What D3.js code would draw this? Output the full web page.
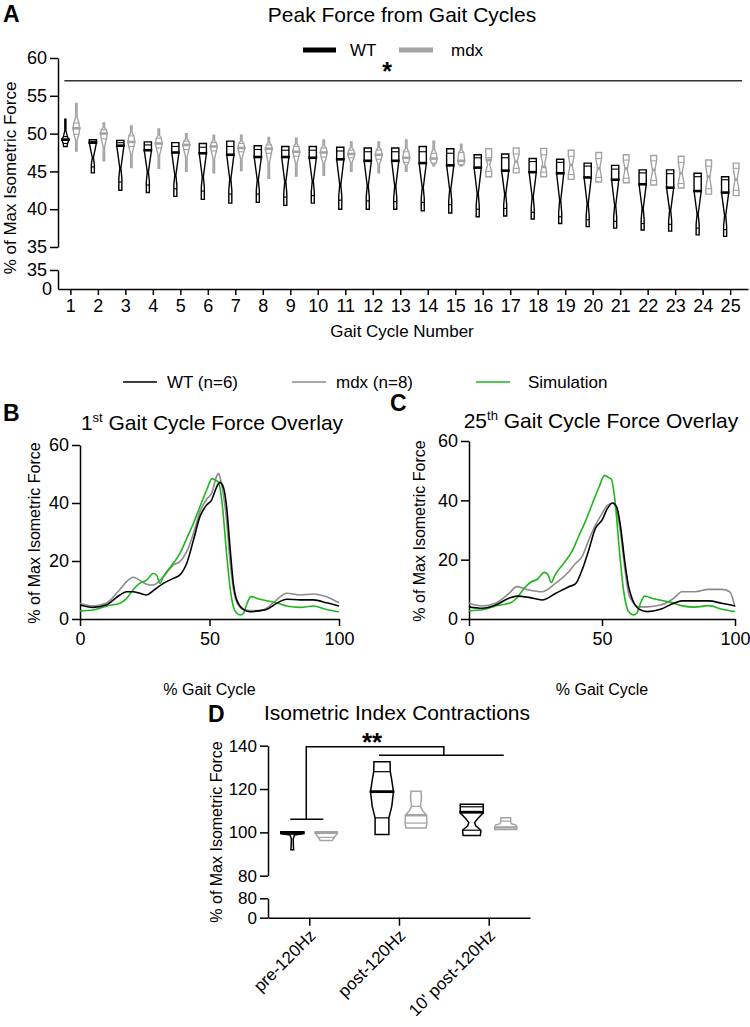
<!DOCTYPE html>
<html><head><meta charset="utf-8">
<script src="https://cdn.jsdelivr.net/npm/d3@7"></script>
<style>
body{margin:0;background:#fff}
svg{display:block}
text{font-family:'Liberation Sans',Arial,Helvetica,sans-serif;fill:#000}
</style>
</head><body>
<svg id="chart" width="750" height="1027"></svg>
<script>
// ---------------- DATA ----------------
// Panel A: peak force per gait cycle (violin summaries: min, q1, median, q3, max)
const cycles = [1,2,3,4,5,6,7,8,9,10,11,12,13,14,15,16,17,18,19,20,21,22,23,24,25];
const wtMax = [51.9,49.2,49.1,48.9,48.8,48.7,49.0,48.4,48.3,48.3,48.2,48.1,48.1,48.3,48.0,47.2,47.3,46.7,46.6,46.1,45.8,45.2,45.2,44.75,44.3];
const wtQ3  = [49.6,49.0,48.8,48.5,48.3,48.2,48.3,47.9,47.8,47.8,47.7,47.6,47.6,47.6,47.4,46.8,46.8,46.3,46.2,45.7,45.3,44.8,44.7,44.3,43.9];
const wtMed = [49.2,48.8,48.4,47.8,47.5,47.4,47.2,46.9,46.9,46.8,46.6,46.4,46.4,46.1,45.8,45.5,45.1,44.9,44.75,44.2,43.9,43.3,42.85,42.4,42.2];
const wtQ1  = [48.7,45.6,43.6,43.2,42.7,42.4,42.0,42.0,41.6,41.8,41.2,41.1,41.0,40.9,40.6,40.0,40.1,39.6,39.0,38.6,38.4,38.1,38.0,37.5,37.3];
const wtMin = [48.3,44.8,42.5,42.2,41.7,41.3,40.8,40.9,40.5,40.8,40.0,40.0,40.0,39.8,39.5,39.0,39.1,38.7,38.1,37.7,37.5,37.25,37.1,36.6,36.4];
const wtShape = ["diamond","block","block","block","block","block","block","block","block","block","block","block","block","block","block","block","block","block","block","block","block","block","block","block","block"];
const mdxMax = [54.0,51.4,51.0,50.6,50.0,49.8,49.8,49.5,49.4,49.15,48.9,48.9,49.15,49.0,48.6,48.0,48.1,48.05,47.8,47.5,47.2,47.1,47.0,46.5,46.1];
const mdxQ3  = [51.4,50.5,49.7,49.4,49.0,48.8,48.7,48.5,48.3,48.1,47.8,47.8,47.6,47.4,47.5,46.8,47.3,47.2,47.0,46.7,46.5,46.4,46.2,45.7,45.4];
const mdxMed = [50.7,50.0,48.9,48.7,48.5,48.3,48.1,48.0,47.6,47.5,47.3,47.2,46.8,46.7,46.4,46.5,46.3,45.6,45.85,45.4,45.4,45.2,44.75,44.3,43.9];
const mdxQ1  = [49.9,49.3,48.3,48.1,47.9,47.7,47.6,47.4,47.0,46.9,46.8,46.6,46.2,46.1,45.9,45.0,45.4,44.9,44.6,44.2,44.1,43.8,43.4,42.7,42.5];
const mdxMin = [47.7,46.4,45.5,45.4,45.0,44.8,45.1,44.1,44.4,44.5,45.0,44.8,45.0,45.75,45.7,44.3,44.8,44.3,43.95,43.6,43.5,43.2,42.8,42.0,41.8];
const mdxShape = ["spindle","spindle","spindle","spindle","spindle","spindle","spindle","spindle","spindle","spindle","spindle","spindle","spindle","spindle","spindle","hourglass","hourglass","hourglass","hourglass","hourglass","hourglass","hourglass","hourglass","hourglass","hourglass"];
const yTicksAUpper = [35,40,45,50,55,60];
const yTicksALower = [0,35];
const sigA = 57; // significance bar level

// Panel B: 1st gait cycle force overlay
const bWtX = [0,5,10,15.4,18,20.6,25.7,28.3,32.2,36,38.6,41.2,43.8,46.3,48.9,50.8,52.8,54,55.3,56.6,57.9,59.2,60.5,63.1,65.6,69.5,72,75.9,79.8,85,90.1,95.2,100];
const bWtY = [4.8,4.0,4.8,8.3,9.4,9.4,8.3,9.8,12.3,14,15.2,19.2,27.2,35.3,39.3,41,45.6,47.1,45.6,38.7,24.9,12.3,6.6,3.3,2.5,2.9,3.3,5.4,6.8,6.6,6.6,5.6,4.5];
const bMdxX = [0,5,10,15.4,18,20.6,23,25.7,28.3,32.2,36,38.6,41.2,43.8,46.3,48.9,50.8,52.8,53.5,54,55.3,56.6,57.9,59.2,60.5,63.1,65.6,69.5,72,75.9,79.8,85,90.1,95.2,100];
const bMdxY = [5.4,4.5,5.4,10.2,12.9,14.4,13.4,12,11.7,14.6,18.6,19.8,23.2,29.5,37,41.3,43.3,49.3,50.2,49,43.3,34,20.3,10.6,6,3.3,2.9,2.9,3.7,6.6,8.9,8.3,8.6,7.7,5.6];
// Simulation (same in B and C)
const simX = [0,5.1,10.3,15.4,18,20.6,23,25.7,28.3,29.6,30.9,32.2,36,38.6,41.2,43.8,46.3,48.9,51,52.3,53.5,54.8,56.6,57.9,59.2,60.5,62,63.1,64.5,66,69.5,75.9,79.8,85,90.1,95.2,100];
const simY = [2.8,3.1,4.5,5.4,7.1,10.2,12.3,13.4,15.7,15.1,12.3,14.6,19.2,22.6,27.8,33,38.7,44.5,48.4,47.8,47.2,40.5,22.6,11.1,4.3,2,1.4,2,5.4,7.7,6.8,5.6,4.5,4.0,4.5,3.3,2.5];
// Panel C: 25th gait cycle
const cWtX = [0,5,10,15,18,22.5,27.5,32.5,37.5,40,42.5,45,47.5,50,52,54,55.5,57,58.5,60,61.5,64,67,72,77,80,85,90,95,100];
const cWtY = [4.1,3.6,4.7,7.0,7.7,7.3,6.4,8.6,10.9,11.8,16.5,23.2,30.5,33.3,37.2,39.1,37.8,31,19.8,10.9,6.4,3.3,2.5,3.3,5.3,6.1,6.1,6.1,5.3,4.4];
const cMdxX = [0,5,10,15,18,22.5,27.5,32.5,37.5,40,42.5,45,47.5,50,52,54,55.5,57,58.5,60,61.5,64,67,72,77,80,85,90,95,98,100];
const cMdxY = [5.3,4.4,5.3,8.6,10.9,9.8,9.2,12,15.9,18.7,21,26.6,31.6,35.5,38.3,39.1,36.7,28.8,17.6,8.6,5.8,4.1,4.1,4.7,7.0,9.2,9.2,10,10,9.2,4.1];
const yTicksBC = [0,20,40,60];
const xTicksBC = [0,50,100];
const legendLabels = ["WT (n=6)","mdx (n=8)","Simulation"];

// Panel D: isometric index contractions (violin density knots [value, relative density])
const dCats = ["pre-120Hz","post-120Hz","10' post-120Hz"];
const dWtKnots = [
  [[92,0.12],[93.5,0.1],[97,0.08],[98.8,0.2],[99.3,0.85],[99.7,1],[100.3,1]],
  [[99,0.6],[106.7,0.6],[112,0.85],[118.8,1],[125,0.82],[128,0.72],[132.6,0.7]],
  [[98.5,0.75],[101,0.8],[103,0.35],[104.5,0.25],[106.5,0.55],[109,1],[113,1]]
];
const dWtMed = [99.7,118.8,109.3];
const dWtQ = [[99.2,100.0],[106.7,128],[101,111.8]];
const dMdxKnots = [
  [[96.2,0.55],[97.5,0.7],[98.5,0.85],[99.5,1],[100.3,1]],
  [[102,0.9],[104.3,1],[107.9,0.95],[110,0.6],[112,0.4],[114,0.45],[116,0.5],[119,0.45]],
  [[101.3,1],[102.5,1],[103.5,0.9],[104,0.5],[105,0.45],[106.7,0.45]]
];
const dMdxMed = [99.8,107.9,102.3];
const dMdxQ = [[97.7,99.8],[104.3,112],[102.3,105.2]];
const yTicksDUpper = [80,100,120,140];
const yTicksDLower = [0,80];
const sigD = {lowBar:106, top:139.5, rightBar:135.6};

// ---------------- DRAW ----------------
const svg = d3.select("#chart");
const FONT = "'Liberation Sans',Arial,Helvetica,sans-serif";
const BLACK = "#000", GRAY = "#a3a3a3", CGRAY = "#8c8c8c", GREEN = "#1fb51f";

function styleAxis(g, fs){
  g.attr("font-family", FONT).attr("font-size", fs);
  g.selectAll("path.domain").attr("stroke", BLACK).attr("stroke-width", 1.5);
  g.selectAll(".tick line").attr("stroke", BLACK).attr("stroke-width", 1.5);
  g.selectAll(".tick text").attr("fill", BLACK);
}
function txt(x, y, s, opts = {}){
  const t = svg.append("text").attr("x", x).attr("y", y).text(s)
    .attr("font-size", opts.size || 17).attr("text-anchor", opts.anchor || "start");
  if (opts.bold) t.attr("font-weight", "bold");
  if (opts.rotate) t.attr("transform", `rotate(${opts.rotate},${x},${y})`);
  return t;
}

// violin outline knots [value, relative half-width] from the five-number summary
function shapeKnots(type, q){
  const [mn, q1, md, q3, mx] = q;
  switch (type){
    case "block": {
      const lowTop = q1 + 0.1 * (md - q1), waist = q1 + 0.38 * (md - q1);
      return [[mn, 0.42], [lowTop, 0.42], [waist, 0.06], [md, 1], [mx, 1]];
    }
    case "diamond":
      return [[mn, 0.5], [q1, 0.6], [md, 1], [q3, 0.55], [q3 + 0.35 * (mx - q3), 0.12], [mx, 0.12]];
    case "spindle":
      return [[mn, 0.22], [q1 - 0.35 * (q1 - mn), 0.22], [q1, 0.75], [md, 1], [q3, 0.75], [q3 + 0.3 * (mx - q3), 0.22], [mx, 0.22]];
    default: // hourglass
      return [[mn, 0.85], [q1, 0.85], [(q1 + q3) / 2, 0.3], [q3, 0.85], [mx, 0.85]];
  }
}
function hwAt(knots, v){
  for (let i = 0; i < knots.length - 1; i++){
    const a = knots[i], b = knots[i + 1];
    if (v >= a[0] && v <= b[0]) return a[1] + (b[1] - a[1]) * (v - a[0]) / ((b[0] - a[0]) || 1);
  }
  return v < knots[0][0] ? knots[0][1] : knots[knots.length - 1][1];
}
function drawViolin(g, cx, y, knots, W, color, med, qs, sw, medW){
  const minHW = 0.55;
  const hw = d => Math.max(minHW, W * d);
  const area = d3.area().curve(d3.curveLinear)
    .y(d => y(d[0])).x0(d => cx - hw(d[1])).x1(d => cx + hw(d[1]));
  g.append("path").attr("d", area(knots)).attr("fill", "none").attr("stroke", color)
    .attr("stroke-width", sw).attr("stroke-linejoin", "miter");
  qs.forEach(v => {
    const h = hw(hwAt(knots, v));
    g.append("line").attr("x1", cx - h).attr("x2", cx + h).attr("y1", y(v)).attr("y2", y(v))
      .attr("stroke", color).attr("stroke-width", sw * 0.8);
  });
  const h = hw(hwAt(knots, med)) + 0.8;
  g.append("line").attr("x1", cx - h).attr("x2", cx + h).attr("y1", y(med)).attr("y2", y(med))
    .attr("stroke", color).attr("stroke-width", medW);
}

// ===== Panel A =====
const xA = d3.scaleLinear().domain([0.55, 25.65]).range([58, 748]);
const yAu = d3.scaleLinear().domain([35, 60]).range([247, 58]);
const yAl = d3.scaleLinear().domain([0, 35]).range([289, 270]);

txt(3, 22, "A", {size: 23, bold: true});
txt(402, 22, "Peak Force from Gait Cycles", {size: 21, anchor: "middle"});
// legend A
svg.append("line").attr("x1", 303).attr("x2", 336).attr("y1", 50).attr("y2", 50).attr("stroke", BLACK).attr("stroke-width", 5);
txt(350, 56, "WT", {size: 17});
svg.append("line").attr("x1", 399).attr("x2", 433).attr("y1", 50).attr("y2", 50).attr("stroke", GRAY).attr("stroke-width", 5);
txt(451, 56, "mdx", {size: 17});
// significance
svg.append("line").attr("x1", xA(cycles[0]) - 6).attr("x2", xA(cycles[cycles.length - 1]) + 12)
  .attr("y1", yAu(sigA)).attr("y2", yAu(sigA)).attr("stroke", "#333").attr("stroke-width", 1.6);
txt(387, 80, "*", {size: 25, bold: true, anchor: "middle"});

// axes A
const gAyu = svg.append("g").attr("transform", "translate(58,0)")
  .call(d3.axisLeft(yAu).tickValues(yTicksAUpper).tickSize(8).tickSizeOuter(0).tickPadding(3));
styleAxis(gAyu, 18);
const gAyl = svg.append("g").attr("transform", "translate(58,0)")
  .call(d3.axisLeft(yAl).tickValues(yTicksALower).tickSize(8).tickSizeOuter(0).tickPadding(3));
styleAxis(gAyl, 18);
gAyl.selectAll(".tick").filter(d => d === 0).select("line").remove();
gAyl.selectAll(".tick").filter(d => d === 0).select("text").attr("x", -6);
const gAx = svg.append("g").attr("transform", "translate(0,289)")
  .call(d3.axisBottom(xA).tickValues(cycles).tickSize(6).tickSizeOuter(0).tickPadding(4));
styleAxis(gAx, 18);
txt(16, 178, "% of Max Isometric Force", {size: 17, anchor: "middle", rotate: -90});
txt(402, 337, "Gait Cycle Number", {size: 17, anchor: "middle"});

// violins A
const gV = svg.append("g");
cycles.forEach((c, i) => {
  const qw = [wtMin[i], wtQ1[i], wtMed[i], wtQ3[i], wtMax[i]];
  drawViolin(gV, xA(c) - 5, yAu, shapeKnots(wtShape[i], qw), 3.6, BLACK, wtMed[i], [wtQ1[i], wtQ3[i]], 1.4, 2.6);
  const qm = [mdxMin[i], mdxQ1[i], mdxMed[i], mdxQ3[i], mdxMax[i]];
  drawViolin(gV, xA(c) + 6, yAu, shapeKnots(mdxShape[i], qm), 3.4, GRAY, mdxMed[i], [mdxQ1[i], mdxQ3[i]], 1.4, 2.6);
});

// ===== Legend B/C =====
const legColors = [BLACK, CGRAY, GREEN];
const legX = [123, 292, 476];
legendLabels.forEach((l, i) => {
  svg.append("line").attr("x1", legX[i]).attr("x2", legX[i] + 34).attr("y1", 382).attr("y2", 382)
    .attr("stroke", legColors[i]).attr("stroke-width", 1.6);
  txt(legX[i] + 44 + (i === 2 ? 8 : 0), 388, l, {size: 17});
});

// ===== Panels B & C =====
function overlay(opts){
  const x = d3.scaleLinear().domain([0, 100]).range(opts.xr);
  const y = d3.scaleLinear().domain([0, 60]).range(opts.yr);
  const gy = svg.append("g").attr("transform", `translate(${opts.xr[0]},0)`)
    .call(d3.axisLeft(y).tickValues(yTicksBC).tickSize(8).tickSizeOuter(0).tickPadding(3));
  styleAxis(gy, 18);
  const gx = svg.append("g").attr("transform", `translate(0,${opts.yr[0]})`)
    .call(d3.axisBottom(x).tickValues(xTicksBC).tickSize(7).tickSizeOuter(0).tickPadding(6));
  styleAxis(gx, 18);
  const line = d3.line().curve(d3.curveMonotoneX).x(d => x(d[0])).y(d => y(d[1]));
  const series = [
    [opts.mdxX, opts.mdxY, CGRAY],
    [simX, simY, GREEN],
    [opts.wtX, opts.wtY, BLACK]
  ];
  series.forEach(([xs, ys, col]) => {
    svg.append("path").attr("d", line(xs.map((v, i) => [v, ys[i]])))
      .attr("fill", "none").attr("stroke", col).attr("stroke-width", 1.6);
  });
  txt(opts.ylabX, opts.ylabY, "% of Max Isometric Force", {size: 16, anchor: "middle", rotate: -90});
  txt((opts.xr[0] + opts.xr[1]) / 2, 695, "% Gait Cycle", {size: 16, anchor: "middle"});
}
overlay({xr: [80, 339], yr: [619, 445], wtX: bWtX, wtY: bWtY, mdxX: bMdxX, mdxY: bMdxY, ylabX: 40, ylabY: 533});
overlay({xr: [469, 735], yr: [619, 441], wtX: cWtX, wtY: cWtY, mdxX: cMdxX, mdxY: cMdxY, ylabX: 425, ylabY: 531});

txt(3, 421, "B", {size: 23, bold: true});
const tB = txt(212, 430, "", {size: 21, anchor: "middle"});
tB.append("tspan").text("1");
tB.append("tspan").text("st").attr("font-size", 13).attr("dy", -8);
tB.append("tspan").text(" Gait Cycle Force Overlay").attr("dy", 8);
txt(390, 411, "C", {size: 23, bold: true});
const tC = txt(601, 428, "", {size: 21, anchor: "middle"});
tC.append("tspan").text("25");
tC.append("tspan").text("th").attr("font-size", 13).attr("dy", -8);
tC.append("tspan").text(" Gait Cycle Force Overlay").attr("dy", 8);

// ===== Panel D =====
const xD = d3.scalePoint().domain(dCats).range([268, 530]).padding(0.46);
const yDu = d3.scaleLinear().domain([80, 140]).range([875.7, 745.7]);
const yDl = d3.scaleLinear().domain([0, 80]).range([917.7, 898.3]);

txt(208, 722, "D", {size: 23, bold: true});
txt(397, 720, "Isometric Index Contractions", {size: 21, anchor: "middle"});

const gDyu = svg.append("g").attr("transform", "translate(268,0)")
  .call(d3.axisLeft(yDu).tickValues(yTicksDUpper).tickSize(8).tickSizeOuter(0).tickPadding(3));
styleAxis(gDyu, 17);
const gDyl = svg.append("g").attr("transform", "translate(268,0)")
  .call(d3.axisLeft(yDl).tickValues(yTicksDLower).tickSize(8).tickSizeOuter(0).tickPadding(3));
styleAxis(gDyl, 17);
const gDx = svg.append("g").attr("transform", "translate(0,917.7)")
  .call(d3.axisBottom(xD).tickSize(8).tickSizeOuter(0));
styleAxis(gDx, 17);
gDx.selectAll(".tick text").attr("text-anchor", "end")
  .attr("x", 0).attr("y", 0).attr("dy", 0)
  .attr("transform", "translate(7,19) rotate(-45)");
txt(222, 832, "% of Max Isometric Force", {size: 16, anchor: "middle", rotate: -90});

const gDV = svg.append("g");
dCats.forEach((c, i) => {
  drawViolin(gDV, xD(c) - 17, yDu, dWtKnots[i], 11.5, BLACK, dWtMed[i], dWtQ[i], 1.5, 2.8);
  drawViolin(gDV, xD(c) + 17, yDu, dMdxKnots[i], 11, GRAY, dMdxMed[i], dMdxQ[i], 1.5, 2.4);
});

// significance brackets D
const sg = svg.append("g").attr("stroke", BLACK).attr("stroke-width", 1.5).attr("fill", "none");
const xPre = xD(dCats[0]), xPost = xD(dCats[1]), x10 = xD(dCats[2]);
const midR = (xPost + x10) / 2;
sg.append("line").attr("x1", xPre - 19).attr("x2", xPre + 14).attr("y1", yDu(sigD.lowBar)).attr("y2", yDu(sigD.lowBar));
sg.append("path").attr("d", `M${xPre - 3},${yDu(sigD.lowBar)}V${yDu(sigD.top)}H${midR}V${yDu(sigD.rightBar)}`);
sg.append("line").attr("x1", xPost - 20).attr("x2", x10 + 15).attr("y1", yDu(sigD.rightBar)).attr("y2", yDu(sigD.rightBar));
txt(372, 751, "**", {size: 26, bold: true, anchor: "middle"});
</script>
</body></html>
